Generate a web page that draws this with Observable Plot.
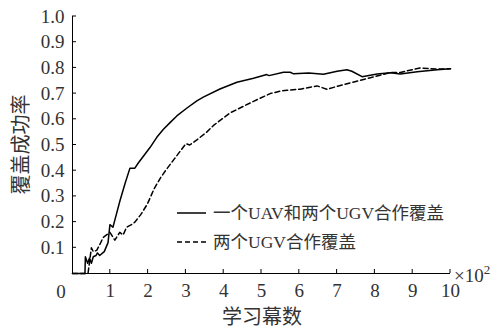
<!DOCTYPE html>
<html>
<head>
<meta charset="utf-8">
<script src="https://cdn.jsdelivr.net/npm/d3@7"></script>
<script src="https://cdn.jsdelivr.net/npm/@observablehq/plot@0.6"></script>
<style>
  html, body { margin: 0; padding: 0; background: #fff; }
  #wrap { position: relative; width: 500px; height: 329px; }
</style>
</head>
<body>
<div id="wrap"></div>
<script>
// Series: coverage success rate vs. learning episodes (×10^2)
const seriesNames = ["一个UAV和两个UGV合作覆盖", "两个UGV合作覆盖"];

const xSolid = [0, 0.33, 0.34, 0.40, 0.45, 0.50, 0.55, 0.62, 0.66, 0.72, 0.84, 0.94, 0.99, 1.07, 1.16, 1.25, 1.39, 1.52, 1.65, 1.74, 1.92, 2.05, 2.23, 2.40, 2.58, 2.76, 3.02, 3.29, 3.46, 3.90, 4.35, 4.79, 5.14, 5.20, 5.58, 5.76, 5.85, 6.25, 6.64, 7.00, 7.26, 7.39, 7.66, 8.06, 8.41, 8.67, 9.12, 9.65, 10];
const ySolid = [0, 0, 0.065, 0.04, 0.06, 0.04, 0.065, 0.07, 0.08, 0.07, 0.085, 0.12, 0.19, 0.18, 0.23, 0.28, 0.35, 0.41, 0.41, 0.43, 0.465, 0.49, 0.53, 0.56, 0.587, 0.613, 0.643, 0.672, 0.686, 0.718, 0.744, 0.76, 0.774, 0.77, 0.783, 0.783, 0.777, 0.78, 0.775, 0.787, 0.793, 0.787, 0.766, 0.776, 0.781, 0.776, 0.785, 0.793, 0.797];

const xDashed = [0, 0.41, 0.50, 0.55, 0.64, 0.73, 0.81, 0.90, 0.99, 1.12, 1.25, 1.34, 1.43, 1.56, 1.65, 1.81, 1.98, 2.16, 2.34, 2.51, 2.69, 2.87, 3.00, 3.10, 3.29, 3.55, 3.73, 4.17, 4.79, 5.23, 5.50, 5.67, 6.02, 6.47, 6.73, 7.35, 7.88, 8.41, 8.67, 9.19, 9.65, 10];
const yDashed = [0, 0, 0.10, 0.085, 0.09, 0.115, 0.14, 0.15, 0.16, 0.13, 0.16, 0.15, 0.18, 0.19, 0.20, 0.23, 0.27, 0.33, 0.375, 0.41, 0.445, 0.48, 0.505, 0.50, 0.52, 0.55, 0.576, 0.625, 0.67, 0.70, 0.71, 0.713, 0.717, 0.73, 0.717, 0.742, 0.762, 0.782, 0.782, 0.80, 0.795, 0.797];

const xTicks = [1, 2, 3, 4, 5, 6, 7, 8, 9, 10];
const yTicks = [0.1, 0.2, 0.3, 0.4, 0.5, 0.6, 0.7, 0.8, 0.9, 1.0];
const xLabel = "学习幕数";
const yLabel = "覆盖成功率";
const xExponent = "×10";
const xExponentPower = "2";

const solid = xSolid.map((x, i) => ({x, y: ySolid[i]}));
const dashed = xDashed.map((x, i) => ({x, y: yDashed[i]}));

const serif = "'Liberation Serif', 'Times New Roman', 'Noto Sans CJK SC', serif";
const textColor = "#333";

const plot = Plot.plot({
  width: 500,
  height: 329,
  marginLeft: 72,
  marginRight: 50,
  marginTop: 16,
  marginBottom: 56,
  style: {fontFamily: serif, fontSize: "19px", color: textColor, background: "#fff", overflow: "visible"},
  x: {type: "linear", domain: [0, 10]},
  y: {type: "linear", domain: [0, 1]},
  marks: [
    Plot.ruleX([0], {stroke: "#000", strokeWidth: 1}),
    Plot.ruleY([0], {stroke: "#000", strokeWidth: 1}),
    Plot.axisX({ticks: xTicks, tickSize: 0, tickPadding: 10, tickFormat: d => String(d), fontSize: 19, fill: textColor, label: null}),
    Plot.axisY({ticks: yTicks, tickSize: 0, tickPadding: 8, tickFormat: d3.format(".1f"), fontSize: 19, fill: textColor, label: null}),
    Plot.line(solid, {x: "x", y: "y", stroke: "#000", strokeWidth: 1.5}),
    Plot.line(dashed, {x: "x", y: "y", stroke: "#000", strokeWidth: 1.5, strokeDasharray: "5,3"})
  ]
});
document.getElementById("wrap").appendChild(plot);

// inward tick marks and extra texts drawn in the plot svg using its scales
const svg = d3.select(plot);
const sx = plot.scale("x"), sy = plot.scale("y");
const X = v => sx.apply(v), Y = v => sy.apply(v);
const g = svg.append("g").attr("font-family", serif).attr("fill", textColor);
xTicks.forEach(t => {
  g.append("line").attr("x1", X(t)).attr("x2", X(t))
    .attr("y1", Y(0)).attr("y2", Y(0) - 4).attr("stroke", "#000");
});
yTicks.forEach(t => {
  g.append("line").attr("x1", X(0)).attr("x2", X(0) + 4)
    .attr("y1", Y(t)).attr("y2", Y(t)).attr("stroke", "#000");
});
// origin label
g.append("text").attr("x", X(0) - 11).attr("y", Y(0) + 18).attr("dy", "0.35em")
  .attr("text-anchor", "middle").attr("font-size", 19).text("0");
// axis titles
g.append("text").attr("x", (X(0) + X(10)) / 2 + 1).attr("y", 324)
  .attr("text-anchor", "middle").attr("font-size", 20).text(xLabel);
g.append("text").attr("transform", `translate(28,${(Y(0) + Y(1)) / 2}) rotate(-90)`)
  .attr("text-anchor", "middle").attr("font-size", 20).text(yLabel);
const ex = g.append("text").attr("x", X(10) + 4).attr("y", Y(0) + 9)
  .attr("text-anchor", "start").attr("font-size", 19);
ex.append("tspan").text(xExponent);
ex.append("tspan").attr("font-size", 13).attr("dy", -8).text(xExponentPower);

// legend
const legendRows = [{name: seriesNames[0], dash: null, y: 213}, {name: seriesNames[1], dash: "5,3", y: 242}];
legendRows.forEach(r => {
  const ln = g.append("line").attr("x1", 177).attr("x2", 206).attr("y1", r.y).attr("y2", r.y)
    .attr("stroke", "#000").attr("stroke-width", 1.5);
  if (r.dash) ln.attr("stroke-dasharray", r.dash);
  g.append("text").attr("x", 213).attr("y", r.y).attr("dy", "0.35em")
    .attr("text-anchor", "start").attr("font-size", 17.5).text(r.name);
});
</script>
</body>
</html>
